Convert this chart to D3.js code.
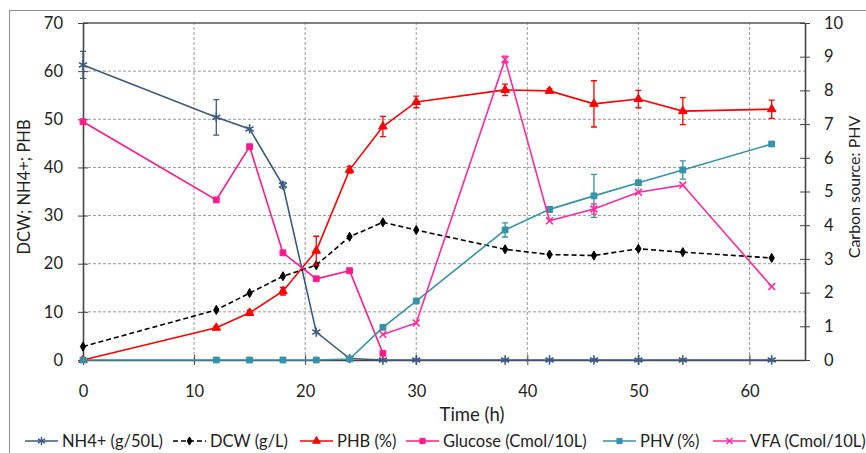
<!DOCTYPE html>
<html>
<head>
<style>
  body {
    background-color: white;
    margin: 0px;
  }
  text {
    font-family: Lato, "Open Sans", sans-serif;
    fill: #222;
  }
</style>
<script src="https://cdn.jsdelivr.net/npm/d3@7"></script>
</head>
<body>
<svg width="866" height="453"></svg>
<script>
// time points (h)
const time = [0, 12, 15, 18, 21, 24, 27, 30, 38, 42, 46, 50, 54, 62];

// left axis series
const nh4 = [61.3, 50.4, 48.0, 36.3, 5.8, 0.3, 0, 0, 0, 0, 0, 0, 0, 0];
const nh4Err = [2.8, 3.7, 0, 0.6, 0, 0, 0, 0, 0, 0, 0, 0, 0, 0];
const dcw = [2.8, 10.4, 13.9, 17.4, 19.7, 25.6, 28.6, 27.0, 23.0, 21.9, 21.7, 23.1, 22.4, 21.2];
const phb = [0, 6.7, 9.8, 14.3, 22.7, 39.5, 48.5, 53.6, 56.1, 55.9, 53.2, 54.2, 51.7, 52.1];
const phbErr = [0, 0.3, 0.5, 0.8, 3.0, 0.7, 2.1, 1.2, 1.2, 0.4, 4.8, 1.8, 2.8, 1.9];

// right axis series
const glucoseTime = [0, 12, 15, 18, 21, 24, 27];
const glucose = [7.07, 4.75, 6.33, 3.18, 2.41, 2.65, 0.2];
const phv = [0, 0, 0, 0, 0, 0.03, 0.97, 1.75, 3.86, 4.47, 4.87, 5.26, 5.64, 6.41];
const phvErr = [0, 0, 0, 0, 0, 0, 0, 0, 0.21, 0.08, 0.64, 0, 0.27, 0];
const vfaTime = [27, 30, 38, 42, 46, 50, 54, 62];
const vfa = [0.76, 1.1, 8.92, 4.13, 4.48, 4.98, 5.19, 2.18];
const vfaErr = [0, 0, 0.1, 0, 0.15, 0, 0, 0];

const xTicks = [0, 10, 20, 30, 40, 50, 60];
const leftTicks = [0, 10, 20, 30, 40, 50, 60, 70];
const rightTicks = [0, 1, 2, 3, 4, 5, 6, 7, 8, 9, 10];

const svg = d3.select("svg");

const x = d3.scaleLinear().domain([0, 65]).range([83, 805]);
const yL = d3.scaleLinear().domain([0, 70]).range([360, 23]);
const yR = d3.scaleLinear().domain([0, 10]).range([360, 23]);

// chart border
svg.append("rect")
    .attr("x", 9.5).attr("y", 10.5)
    .attr("width", 900).attr("height", 500)
    .attr("fill", "none")
    .attr("stroke", "#8c8c8c");

// gridlines
svg.append("g").selectAll("line")
  .data(leftTicks.slice(1, -1))
  .join("line")
    .attr("x1", x(0)).attr("x2", x(65))
    .attr("y1", d => yL(d)).attr("y2", d => yL(d))
    .attr("stroke", "#999").attr("stroke-dasharray", "3,2");
svg.append("g").selectAll("line")
  .data(xTicks.slice(1))
  .join("line")
    .attr("x1", d => x(d)).attr("x2", d => x(d))
    .attr("y1", yL(0)).attr("y2", yL(70))
    .attr("stroke", "#999").attr("stroke-dasharray", "3,2");
svg.append("line")
    .attr("x1", x(0)).attr("x2", x(65))
    .attr("y1", yL(70)).attr("y2", yL(70))
    .attr("stroke", "#555").attr("stroke-width", 1.6);

// axes
function crossTicks(g, horiz) {
  g.select(".domain").attr("stroke", "#444").attr("stroke-width", 1.6);
  g.selectAll(".tick line").attr("stroke", "#444")
    .attr(horiz ? "y1" : "x1", -5).attr(horiz ? "y2" : "x2", 5);
  g.selectAll(".tick text").attr("font-size", 16.5).attr("fill", "#222")
    .attr("font-family", "Lato, sans-serif");
}

svg.append("g")
    .attr("transform", `translate(${x(0)},0)`)
    .call(d3.axisLeft(yL).tickValues(leftTicks).tickSize(5).tickPadding(15).tickSizeOuter(0))
    .call(g => crossTicks(g, false));

svg.append("g")
    .attr("transform", `translate(${x(65)},0)`)
    .call(d3.axisRight(yR).tickValues(rightTicks).tickSize(5).tickPadding(14).tickSizeOuter(0))
    .call(g => crossTicks(g, false));

svg.append("g")
    .attr("transform", `translate(0,${yL(0)})`)
    .call(d3.axisBottom(x).tickValues(xTicks).tickSize(5).tickSizeOuter(0))
    .call(g => crossTicks(g, true))
    .call(g => g.selectAll(".tick text").attr("y", 32).attr("dy", "0.32em"));

// axis titles
svg.append("text")
    .attr("x", 472).attr("y", 415)
    .attr("text-anchor", "middle").attr("dy", "0.32em")
    .attr("font-size", 18.5)
    .text("Time (h)");
svg.append("text")
    .attr("transform", "translate(25,187) rotate(-90)")
    .attr("text-anchor", "middle").attr("dy", "0.32em")
    .attr("font-size", 16.5)
    .text("DCW; NH4+; PHB");
svg.append("text")
    .attr("transform", "translate(855,187) rotate(-90)")
    .attr("text-anchor", "middle").attr("dy", "0.32em")
    .attr("font-size", 16)
    .text("Carbon source: PHV");

const series = [
  {name: "NH4+ (g/50L)", t: time, v: nh4, err: nh4Err, y: yL, color: "#3c5a80", sym: d3.symbolAsterisk, size: 60, stroke: true, dash: null, lx: 25},
  {name: "DCW (g/L)", t: time, v: dcw, err: null, y: yL, color: "#000", sym: d3.symbolDiamond, size: 24, stroke: false, dash: "5,3", lx: 173},
  {name: "PHB (%)", t: time, v: phb, err: phbErr, y: yL, color: "#ff0000", sym: d3.symbolTriangle, size: 32, stroke: false, dash: null, lx: 300},
  {name: "Glucose (Cmol/10L)", t: glucoseTime, v: glucose, err: null, y: yR, color: "#ff1a8c", sym: d3.symbolSquare, size: 34, stroke: false, dash: null, lx: 406},
  {name: "PHV (%)", t: time, v: phv, err: phvErr, y: yR, color: "#3592a8", sym: d3.symbolSquare, size: 34, stroke: false, dash: null, lx: 603},
  {name: "VFA (Cmol/10L)", t: vfaTime, v: vfa, err: vfaErr, y: yR, color: "#ff2aa0", sym: d3.symbolTimes, size: 32, stroke: true, dash: null, lx: 713}
];

const line = d3.line();

series.forEach(function(s) {
  const pts = s.t.map((t, i) => [x(t), s.y(s.v[i]), s.err ? s.err[i] : 0]);
  const g = svg.append("g");

  g.append("path")
      .attr("d", line(pts))
      .attr("fill", "none")
      .attr("stroke", s.color)
      .attr("stroke-width", 1.6)
      .attr("stroke-dasharray", s.dash);

  // error bars
  g.selectAll(".eb")
    .data(pts.map((p, i) => ({x: p[0], lo: s.y(s.v[i] - p[2]), hi: s.y(s.v[i] + p[2]), e: p[2]})).filter(d => d.e > 0))
    .join("path")
      .attr("d", d => `M${d.x - 3},${d.hi}H${d.x + 3}M${d.x},${d.hi}V${d.lo}M${d.x - 3},${d.lo}H${d.x + 3}`)
      .attr("stroke", s.color)
      .attr("stroke-width", 1.3)
      .attr("fill", "none");

  g.selectAll(".m")
    .data(pts)
    .join("path")
      .attr("transform", d => `translate(${d[0]},${d[1]})`)
      .attr("d", d3.symbol(s.sym, s.size))
      .attr("fill", s.stroke ? "none" : s.color)
      .attr("stroke", s.color)
      .attr("stroke-width", s.stroke ? 1.6 : 1);

  // legend entry
  const lg = svg.append("g").attr("transform", `translate(${s.lx},441)`);
  lg.append("line")
      .attr("x1", 0).attr("x2", 33)
      .attr("stroke", s.color).attr("stroke-width", 1.6)
      .attr("stroke-dasharray", s.dash);
  lg.append("path")
      .attr("transform", "translate(16.5,0)")
      .attr("d", d3.symbol(s.sym, s.size * 0.8))
      .attr("fill", s.stroke ? "none" : s.color)
      .attr("stroke", s.color)
      .attr("stroke-width", s.stroke ? 1.4 : 1);
  lg.append("text")
      .attr("x", 37).attr("dy", "0.35em")
      .attr("font-size", 16.5)
      .text(s.name);
});
</script>
</body>
</html>
